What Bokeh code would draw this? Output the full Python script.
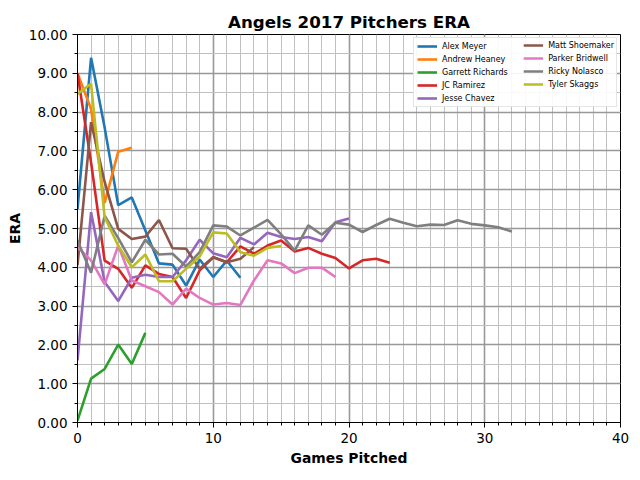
from bokeh.plotting import figure
from bokeh.models import SingleIntervalTicker, Legend, LegendItem, NumeralTickFormatter, Range1d
from bokeh.embed import file_html
from bokeh.resources import INLINE

names = ["Alex Meyer", "Andrew Heaney", "Garrett Richards", "JC Ramirez", "Jesse Chavez",
         "Matt Shoemaker", "Parker Bridwell", "Ricky Nolasco", "Tyler Skaggs"]
colors = ["#1f77b4", "#ff7f0e", "#2ca02c", "#d62728", "#9467bd",
          "#8c564b", "#e377c2", "#7f7f7f", "#bcbd22"]

alex_meyer = [5.5, 9.4, 7.6, 5.6, 5.8, 4.95, 4.1, 4.07, 3.53, 4.2, 3.75, 4.17, 3.73]
andrew_heaney = [9.0, 8.08, 5.66, 6.98, 7.08]
garrett_richards = [0.05, 1.13, 1.38, 2.01, 1.51, 2.31]
jc_ramirez = [9.0, 6.7, 4.17, 3.96, 3.47, 4.05, 3.83, 3.75, 3.21, 3.92, 4.26, 4.13, 4.54,
              4.35, 4.56, 4.69, 4.41, 4.50, 4.35, 4.24, 3.97, 4.18, 4.22, 4.12]
jesse_chavez = [1.6, 5.42, 3.62, 3.13, 3.73, 3.81, 3.75, 3.75, 4.18, 4.71, 4.36, 4.26, 4.76,
                4.59, 4.89, 4.78, 4.73, 4.78, 4.67, 5.16, 5.26]
matt_shoemaker = [4.05, 7.74, 6.2, 4.99, 4.73, 4.79, 5.22, 4.49, 4.48, 3.96, 4.26, 4.13, 4.22, 4.52]
parker_bridwell = [4.52, 4.18, 3.56, 4.56, 3.66, 3.51, 3.36, 3.04, 3.45, 3.21, 3.04, 3.08, 3.03,
                   3.66, 4.18, 4.10, 3.85, 3.99, 3.99, 3.75]
ricky_nolasco = [4.69, 3.86, 5.33, 4.75, 4.13, 4.71, 4.33, 4.35, 4.02, 4.39, 5.08, 5.05, 4.82,
                 5.02, 5.22, 4.85, 4.43, 5.08, 4.84, 5.15, 5.10, 4.91, 5.09, 5.25, 5.15, 5.06,
                 5.10, 5.09, 5.21, 5.12, 5.08, 5.03, 4.92]
tyler_skaggs = [8.47, 8.73, 5.29, 4.56, 4.0, 4.33, 3.64, 3.64, 3.96, 4.28, 4.9, 4.87, 4.39,
                4.30, 4.5, 4.55]

series = [alex_meyer, andrew_heaney, garrett_richards, jc_ramirez, jesse_chavez,
          matt_shoemaker, parker_bridwell, ricky_nolasco, tyler_skaggs]

FONT = "DejaVu Sans"

p = figure(width=640, height=480, output_backend="svg", toolbar_location=None,
           x_range=Range1d(0, 40), y_range=Range1d(0, 10),
           min_border_left=77, min_border_right=20, min_border_top=34, min_border_bottom=58)

p.title.text = "Angels 2017 Pitchers ERA"
p.title.align = "center"
p.title.text_font = FONT
p.title.text_font_size = "16.7px"
p.title.text_font_style = "bold"
p.title.text_color = "black"
p.title.offset = 0
p.title.standoff = 6

p.xaxis.ticker = SingleIntervalTicker(interval=10, num_minor_ticks=10)
p.yaxis.ticker = SingleIntervalTicker(interval=1, num_minor_ticks=2)
p.yaxis.formatter = NumeralTickFormatter(format="0.00")

for ax in (p.xaxis, p.yaxis):
    ax.axis_line_color = "black"
    ax.major_tick_line_color = "black"
    ax.minor_tick_line_color = "black"
    ax.major_tick_in = 0
    ax.major_tick_out = 5
    ax.minor_tick_in = 0
    ax.minor_tick_out = 3
    ax.major_label_standoff = 5
    ax.major_label_text_font = FONT
    ax.major_label_text_font_size = "13.5px"
    ax.major_label_text_color = "black"
    ax.axis_label_text_font = FONT
    ax.axis_label_text_font_size = "13.9px"
    ax.axis_label_text_font_style = "bold"
    ax.axis_label_text_color = "black"

p.xaxis.axis_label = "Games Pitched"
p.yaxis.axis_label = "ERA"
p.xaxis.axis_label_standoff = 4
p.yaxis.axis_label_standoff = 3

for g in (p.xgrid, p.ygrid):
    g.grid_line_color = "#999999"
    g.grid_line_width = 1.6
    g.minor_grid_line_color = "#c0c0c0"
    g.minor_grid_line_width = 1

p.outline_line_color = "black"
p.outline_line_alpha = 1
p.outline_line_width = 1

items = []
for name, col, ys in zip(names, colors, series):
    r = p.line(list(range(len(ys))), ys, line_color=col, line_width=2.6)
    items.append(LegendItem(label=name, renderers=[r]))

common = dict(label_text_font=FONT, label_text_font_size="8px", label_text_color="black",
              glyph_width=20, glyph_height=10, label_height=10,
              spacing=3, padding=3, margin=3, label_standoff=5, location="top_right")

legend_a = Legend(items=items[:5], label_width=171,
                  border_line_color="#cccccc", border_line_width=1,
                  background_fill_color="white", background_fill_alpha=0.9, **common)
legend_b = Legend(items=items[5:], border_line_alpha=0,
                  background_fill_alpha=0, **common)
p.add_layout(legend_a, "center")
p.add_layout(legend_b, "center")

open("out.html", "w").write(file_html(p, INLINE))
